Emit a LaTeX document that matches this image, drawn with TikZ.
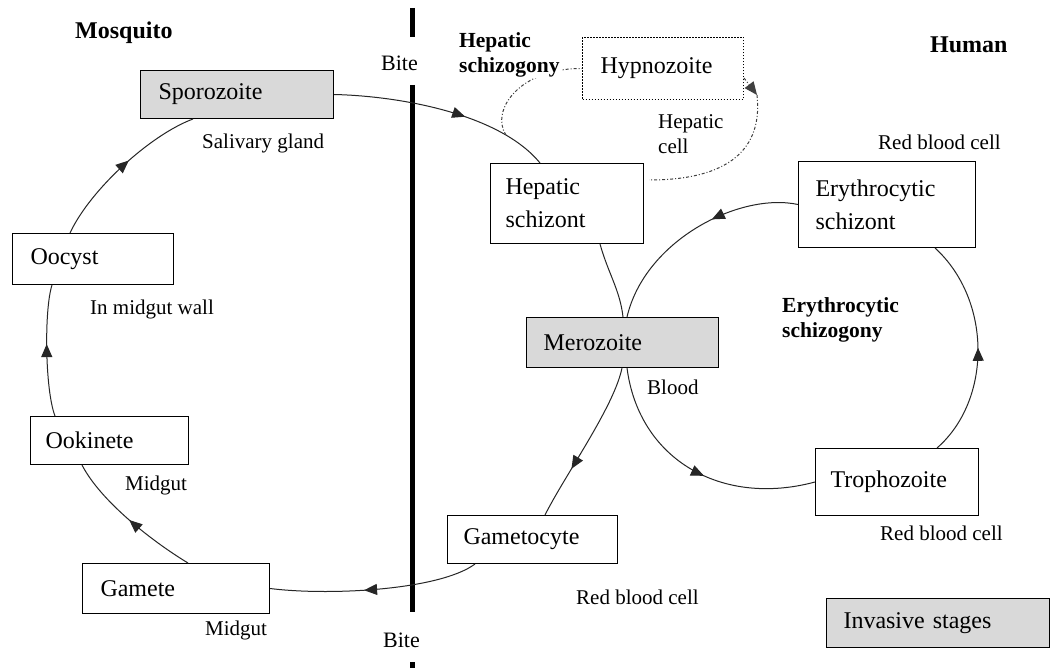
\documentclass[tikz,border=0pt]{standalone}
\usepackage{fontspec}
\setmainfont{Liberation Serif}
\usetikzlibrary{arrows.meta,decorations.markings,calc}
\newcommand{\boxfs}{\fontsize{24}{33}\selectfont}
\newcommand{\lblfs}{\fontsize{21}{25}\selectfont}
\newcommand{\hdfs}{\fontsize{24}{28}\selectfont\bfseries}
\newcommand{\bldfs}{\fontsize{21.5}{25}\selectfont\bfseries}
\tikzset{
  stage/.style={draw, line width=1pt, anchor=north west, align=left, inner ysep=0pt, font=\boxfs},
  invasive/.style={stage, fill=gray!30},
  lbl/.style={anchor=west, inner sep=0pt, align=left, font=\lblfs},
  boldlbl/.style={anchor=west, inner sep=0pt, align=left, font=\bldfs},
  headlbl/.style={anchor=west, inner sep=0pt, font=\hdfs},
  conn/.style={draw, line width=1pt, black!85},
  dotline/.style={draw, line width=1pt, black!75, dash pattern=on 3pt off 2pt on 1pt off 2pt},
  midarrow/.style={postaction={decorate}, decoration={markings, mark=at position #1 with {\arrow{Triangle[length=13pt,width=11pt]}}}},
  bar/.style={line width=5pt, black}
}
\begin{document}
\begin{tikzpicture}[x=1pt,y=-1pt]
\useasboundingbox[fill=white] (0,0) rectangle (1051,668);

% separating bar
\draw[bar] (412,8) -- (412,37);
\draw[bar] (412,85) -- (412,612);
\draw[bar] (412,662) -- (412,668);

% stages
\node[invasive, minimum width=193, minimum height=48, text width=157, inner xsep=18] (spo) at (140,70) {Sporozoite};
\node[stage, minimum width=161, minimum height=51, text width=125, inner xsep=18] (ooc) at (12,233) {Oocyst};
\node[stage, minimum width=158, minimum height=48, text width=128, inner xsep=15] (ook) at (30,416) {Ookinete};
\node[stage, minimum width=187, minimum height=50, text width=151, inner xsep=18] (gam) at (82,563) {Gamete};
\node[stage, minimum width=170, minimum height=48, text width=138, inner xsep=16] (gmc) at (447,515) {Gametocyte};
\node[stage, minimum width=163, minimum height=67, text width=133, inner xsep=15] (tro) at (815,448) {Trophozoite};
\node[invasive, minimum width=223, minimum height=49, text width=189, inner xsep=17] (inv) at (826,598) {Invasive stages};
\node[invasive, minimum width=192, minimum height=50, text width=158, inner xsep=17] (mer) at (526,317) {Merozoite};
\node[stage, minimum width=153, minimum height=80, text width=123, inner xsep=15] (hep) at (490,163) {Hepatic\\schizont};
\node[stage, dash pattern=on 1.5pt off 1.5pt, minimum width=161, minimum height=62, text width=125, inner xsep=18] (hyp) at (582,37) {Hypnozoite};
\node[stage, minimum width=177, minimum height=86, text width=143, inner xsep=17] (ery) at (798,161) {Erythrocytic\\schizont};

% connectors (mosquito cycle)
\draw[conn, midarrow=0.55] ([shift={(28,0)}]gmc.south west) .. controls (440,590) and (330,596) .. (gam.east);
\draw[conn, midarrow=0.5] ([shift={(106,0)}]gam.north west) .. controls (150,540) and (100,500) .. ([shift={(52,0)}]ook.south west);
\draw[conn, midarrow=0.55] ([shift={(25,0)}]ook.north west) .. controls (45,390) and (44,310) .. ([shift={(40,0)}]ooc.south west);
\draw[conn, midarrow=0.55] ([shift={(58,0)}]ooc.north west) .. controls (90,190) and (150,135) .. ([shift={(53,0)}]spo.south west);

% connectors (human cycle)
\draw[conn, midarrow=0.6] (spo.east) .. controls (400,96) and (500,114) .. ([shift={(50,0)}]hep.north west) coordinate[pos=0.78] (split);
\draw[conn] ([shift={(110,0)}]hep.south west) .. controls (608,273) and (620,290) .. ([shift={(97,0)}]mer.north west);
\draw[conn, midarrow=0.68] ([shift={(96,0)}]mer.south west) .. controls (614,407) and (565,475) .. ([shift={(98,0)}]gmc.north west);
\draw[conn, midarrow=0.4] (ery.west) .. controls (740,192) and (645,240) .. ([shift={(101,0)}]mer.north west);
\draw[conn, midarrow=0.55] ([shift={(101,0)}]mer.south west) .. controls (639,460) and (722,507) .. (tro.west);
\draw[conn, midarrow=0.5] ([shift={(122,0)}]tro.north west) .. controls (992,400) and (992,300) .. ([shift={(137,0)}]ery.south west);

% hypnozoite loop
\coordinate (hypturn) at (757,95);
\coordinate (hcend) at ([shift={(5,17)}]hep.north east);
\draw[dotline] (split) .. controls (490,110) and (520,68) .. (hyp.west);
\draw[dotline, -{Triangle[length=13pt,width=11pt]}] ([shift={(0,41)}]hyp.north east) -- (hypturn);
\draw[dotline] (hypturn) .. controls (762,140) and (740,180) .. (hcend);

% labels
\node[headlbl] (lmos) at (75,33) {Mosquito};
\node[headlbl] (lhum) at (930,45) {Human};
\node[lbl, font=\fontsize{22}{25}\selectfont] (lbite1) at (381,63) {Bite};
\node[lbl, font=\fontsize{22}{25}\selectfont] (lbite2) at (383,640) {Bite};
\node[boldlbl, fill=white, inner sep=1pt] (lhsch) at (458,55) {Hepatic\\schizogony};
\node[boldlbl] (lesch) at (782,320) {Erythrocytic\\schizogony};
\node[lbl] (lsal) at (202,143) {Salivary gland};
\node[lbl] (lmgw) at (90,309) {In midgut wall};
\node[lbl] (lmg1) at (125,485) {Midgut};
\node[lbl] (lmg2) at (205,630) {Midgut};
\node[lbl] (lrbc1) at (576,597) {Red blood cell};
\node[lbl] (lrbc2) at (880,533) {Red blood cell};
\node[lbl] (lrbc3) at (878,142) {Red blood cell};
\node[lbl] (lblood) at (647,387) {Blood};
\node[lbl] (lhcell) at (658,134) {Hepatic\\cell};
\end{tikzpicture}
\end{document}
